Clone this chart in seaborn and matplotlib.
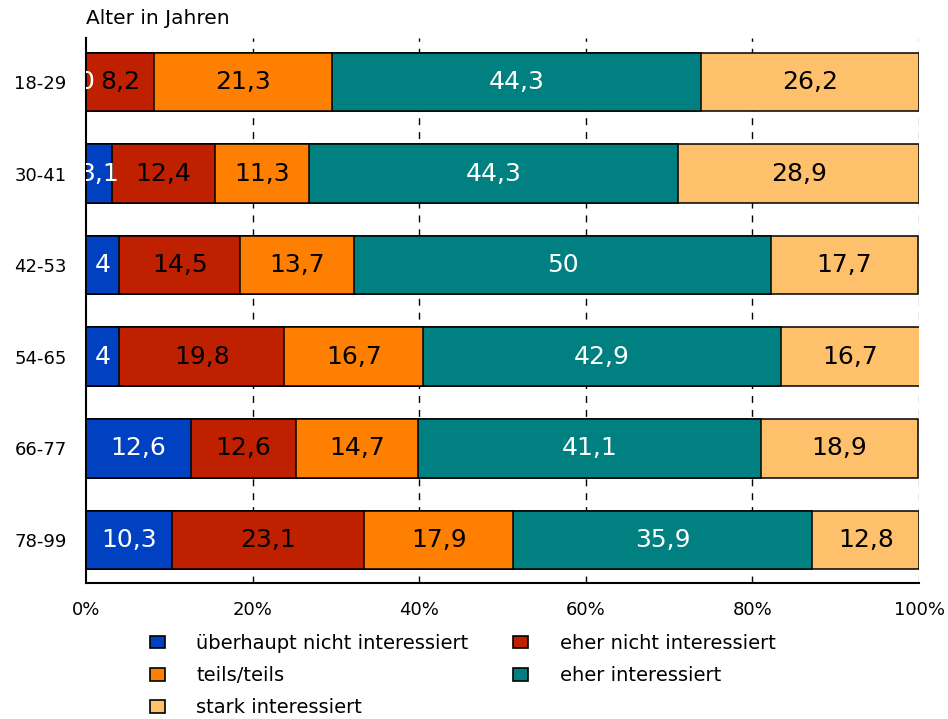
import numpy as np
import pandas as pd
import seaborn as sns
import matplotlib
matplotlib.use("Agg")
import matplotlib.pyplot as plt
from matplotlib.patches import Patch

ages = ["18-29", "30-41", "42-53", "54-65", "66-77", "78-99"]
series_names = ["überhaupt nicht interessiert", "eher nicht interessiert",
                "teils/teils", "eher interessiert", "stark interessiert"]
ueberhaupt_nicht = [0, 3.1, 4, 4, 12.6, 10.3]
eher_nicht = [8.2, 12.4, 14.5, 19.8, 12.6, 23.1]
teils = [21.3, 11.3, 13.7, 16.7, 14.7, 17.9]
eher_int = [44.3, 44.3, 50, 42.9, 41.1, 35.9]
stark = [26.2, 28.9, 17.7, 16.7, 18.9, 12.8]
colors = ["#0041C2", "#BF2000", "#FF8000", "#008080", "#FFC06C"]
text_colors = ["white", "black", "black", "white", "black"]
xticks = [0, 20, 40, 60, 80, 100]
xtick_labels = ["0%", "20%", "40%", "60%", "80%", "100%"]

sns.set_theme(style="white")
plt.rcParams["font.family"] = ["DejaVu Sans"]
plt.rcParams["text.color"] = "black"
plt.rcParams["xtick.color"] = "black"
plt.rcParams["ytick.color"] = "black"

values = np.array([ueberhaupt_nicht, eher_nicht, teils, eher_int, stark])
cum = np.cumsum(values, axis=0)

fig = plt.figure(figsize=(9.48, 7.19), dpi=100)
ax = fig.add_axes([86 / 948, 1 - 583 / 719, 833 / 948, 545 / 719])

# grid behind bars
for x in [20, 40, 60, 80, 100]:
    ax.axvline(x, color="black" if x < 100 else "#808080", lw=1,
               ls=(0, (5, 5)), zorder=0)

for i in range(len(series_names) - 1, -1, -1):
    df = pd.DataFrame({"age": ages, "val": cum[i]})
    sns.barplot(data=df, x="val", y="age", order=ages, orient="h",
                color=colors[i], saturation=1, width=0.64,
                edgecolor="black", linewidth=1.1, ax=ax, zorder=2)

def fmt(v):
    if abs(v - round(v)) < 1e-9:
        return str(int(round(v)))
    return f"{v:.1f}".replace(".", ",")

for i in range(len(series_names)):
    for j in range(len(ages)):
        center = cum[i][j] - values[i][j] / 2
        ax.text(center, j, fmt(values[i][j]), ha="center", va="center",
                color=text_colors[i], fontsize=18, zorder=5, clip_on=True)

ax.set_xlim(0, 100)
ax.set_ylim(5.47, -0.48)
ax.set_xticks(xticks)
ax.set_xticklabels(xtick_labels, fontsize=13)
ax.tick_params(axis="x", pad=13, length=0, colors="black")
ax.tick_params(axis="y", pad=14, length=0, labelsize=13, colors="black")
ax.set_xlabel("")
ax.set_ylabel("")
for s in ["top", "right"]:
    ax.spines[s].set_visible(False)
for s in ["left", "bottom"]:
    ax.spines[s].set_color("black")
    ax.spines[s].set_linewidth(1.5)

fig.text(86 / 948, 1 - 18 / 719, "Alter in Jahren", ha="left", va="center",
         fontsize=14.5, color="black")

handles = [Patch(facecolor=colors[k], edgecolor="black", linewidth=1.2,
                 label=series_names[k]) for k in [0, 2, 4, 1, 3]]
leg = fig.legend(handles=handles, ncol=2, loc="upper left",
                 bbox_to_anchor=(150 / 948, 1 - 634 / 719), frameon=False,
                 fontsize=14, handlelength=0.78, handleheight=0.62,
                 handletextpad=1.6, columnspacing=2.3, labelspacing=0.68,
                 borderpad=0, borderaxespad=0)
for t in leg.get_texts():
    t.set_color("black")

fig.savefig("out.png", dpi=100)
